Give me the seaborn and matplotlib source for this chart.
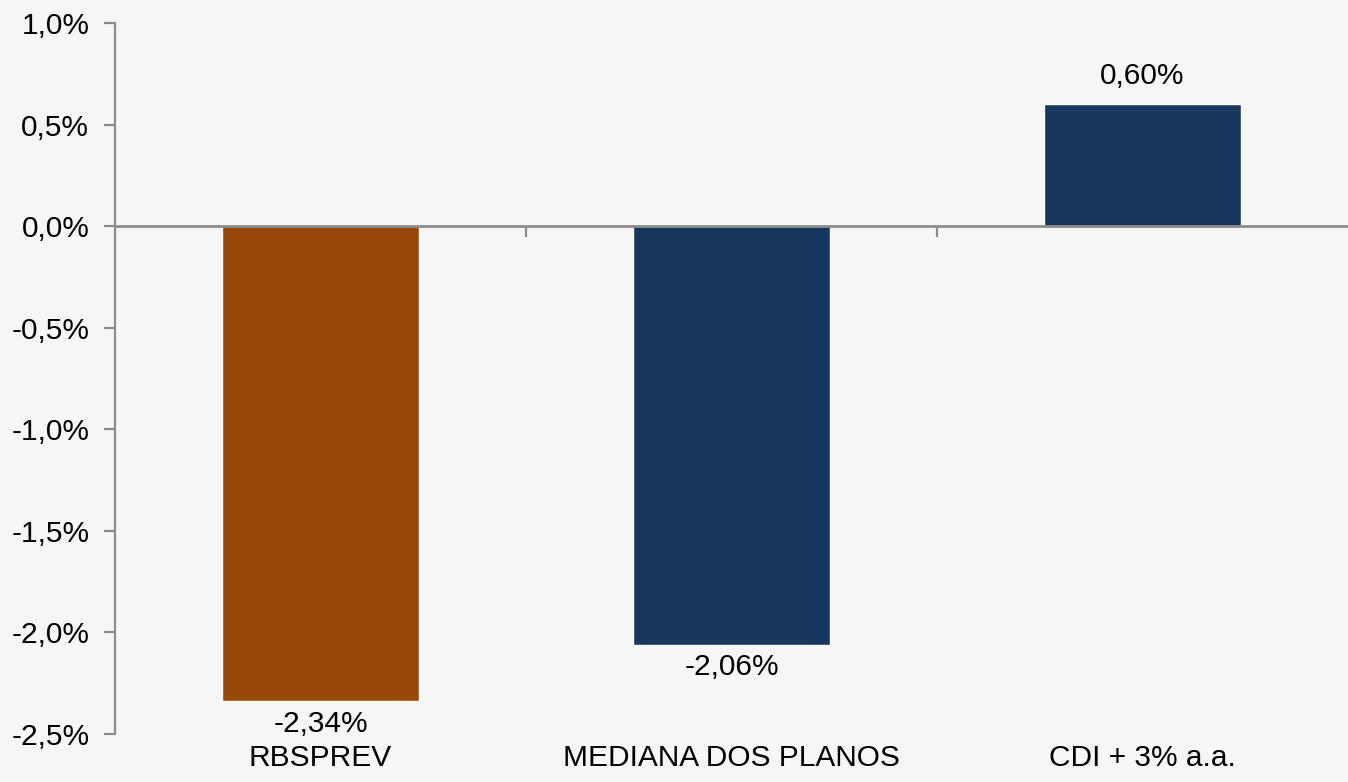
import matplotlib
matplotlib.use("Agg")
import matplotlib.pyplot as plt
import seaborn as sns
import pandas as pd
from matplotlib.ticker import FuncFormatter, FixedLocator

categories = ["RBSPREV", "MEDIANA DOS PLANOS", "CDI + 3% a.a."]
values = [-2.34, -2.06, 0.60]
colors = ["#974706", "#17375E", "#17375E"]
y_ticks = [-2.5, -2.0, -1.5, -1.0, -0.5, 0.0, 0.5, 1.0]

sns.set_theme(style="white")
plt.rcParams["font.family"] = ["Liberation Sans", "DejaVu Sans"]
plt.rcParams["text.color"] = "black"

FS = 21.5

df = pd.DataFrame({"categoria": categories, "valor": values})

fig = plt.figure(figsize=(13.48, 7.82), dpi=100)
fig.patch.set_facecolor("#f6f6f7")
ax = fig.add_axes([115 / 1348, 1 - 734 / 782, 1 - 115 / 1348, (734 - 23) / 782])
ax.set_facecolor("none")

sns.barplot(data=df, x="categoria", y="valor", hue="categoria",
            palette=colors, width=0.48, legend=False, ax=ax, saturation=1)

ax.set_ylim(-2.5, 1.0)
ax.set_xlim(-0.5, 2.5)
ax.yaxis.set_major_locator(FixedLocator(y_ticks))
ax.yaxis.set_major_formatter(FuncFormatter(lambda v, p: f"{v:.1f}%".replace(".", ",")))

gray = "#8c8c8c"
for s in ["top", "right"]:
    ax.spines[s].set_visible(False)
ax.spines["left"].set_color(gray)
ax.spines["left"].set_linewidth(1.6)
ax.spines["bottom"].set_position(("data", 0))
ax.spines["bottom"].set_color(gray)
ax.spines["bottom"].set_linewidth(2)

ax.tick_params(axis="y", direction="out", length=8, width=1.6, color=gray,
               labelsize=FS, labelcolor="black", pad=10.5, left=True)
ax.xaxis.set_major_locator(FixedLocator([0.5, 1.5]))
ax.tick_params(axis="x", direction="out", length=8, width=1.6, color=gray,
               labelbottom=False, bottom=True)
ax.set_xlabel("")
ax.set_ylabel("")

for i, (cat, v) in enumerate(zip(categories, values)):
    txt = f"{v:.2f}%".replace(".", ",")
    if v < 0:
        ax.annotate(txt, (i, v), xytext=(0, -6), textcoords="offset points",
                    ha="center", va="top", fontsize=FS, color="black")
    else:
        ax.annotate(txt, (i, v), xytext=(0, 10), textcoords="offset points",
                    ha="center", va="bottom", fontsize=FS, color="black")
    ax.annotate(cat, (i, -2.5), xytext=(0, -7), textcoords="offset points",
                ha="center", va="top", fontsize=FS, color="black",
                annotation_clip=False)

fig.savefig("out.png", dpi=100, facecolor=fig.get_facecolor())
